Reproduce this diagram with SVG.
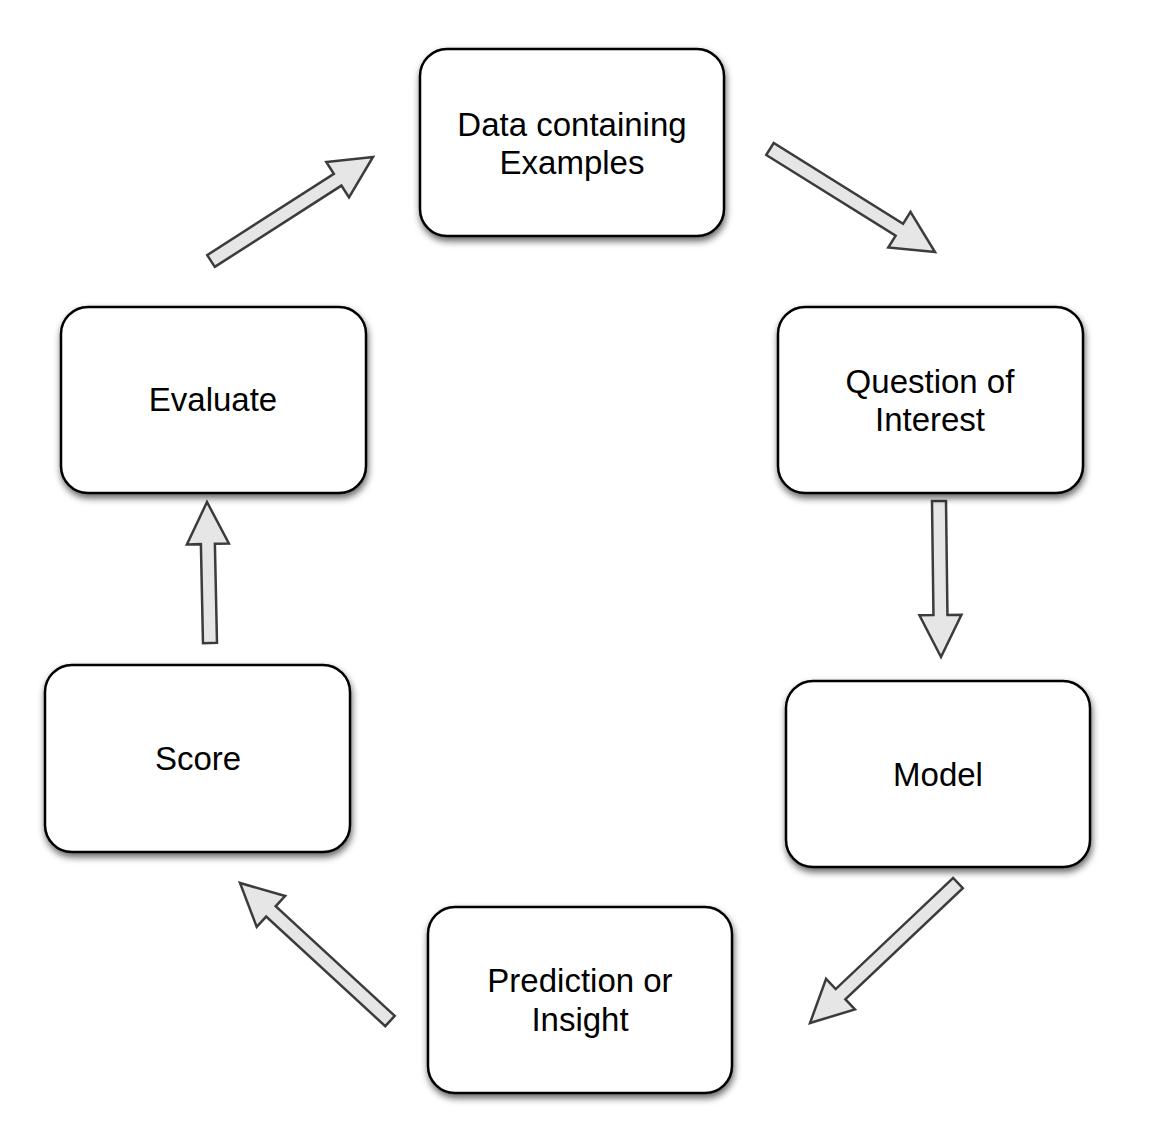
<svg xmlns="http://www.w3.org/2000/svg" width="1171" height="1124" viewBox="0 0 1171 1124">
<defs>
<filter id="sh" x="-10%" y="-10%" width="125%" height="130%">
<feDropShadow dx="1" dy="4" stdDeviation="3.5" flood-color="#000" flood-opacity="0.6"/>
</filter>
<style>
.box{fill:#fff;stroke:#000;stroke-width:2.5;filter:url(#sh)}
.lbl{font-family:"Liberation Sans",Arial,sans-serif;font-size:33px;fill:#000;text-anchor:middle}
.arr{fill:#e6e6e6;stroke:#3c3c3c;stroke-width:2.5;stroke-linejoin:miter}
</style>
</defs>
<rect width="1171" height="1124" fill="#fff"/>
<g id="connectors">
<polygon class="arr" points="214.78,266.89 341.43,185.58 348.99,197.36 373,157 326.30,162.02 333.87,173.80 207.22,255.11"/>
<polygon class="arr" points="766.29,154.94 895.66,235.70 888.25,247.57 935,252 910.49,211.95 903.08,223.82 773.71,143.06"/>
<polygon class="arr" points="932,501.09 933.46,615.09 919.46,615.27 941,657 961.46,614.73 947.46,614.91 946,500.91"/>
<polygon class="arr" points="953.19,877.91 835.70,989.04 826.08,978.87 810,1023 854.94,1009.39 845.32,999.22 962.81,888.09"/>
<polygon class="arr" points="394.74,1015.85 275.65,906.29 285.13,895.98 240,883 256.69,926.90 266.17,916.59 385.26,1026.15"/>
<polygon class="arr" points="217,642.85 214.88,543.84 228.89,543.54 207,502 186.89,544.44 200.89,544.14 203,643.15"/>
</g>
<g id="data">
<rect class="box" x="420" y="49" width="304" height="187" rx="27"/>
<text class="lbl" x="572" y="136">Data containing</text>
<text class="lbl" x="572" y="174">Examples</text>
</g>
<g id="question">
<rect class="box" x="778" y="307" width="305" height="186" rx="27"/>
<text class="lbl" x="930" y="393">Question of</text>
<text class="lbl" x="930" y="431">Interest</text>
</g>
<g id="model">
<rect class="box" x="786" y="681" width="304" height="186" rx="27"/>
<text class="lbl" x="938" y="786">Model</text>
</g>
<g id="prediction">
<rect class="box" x="428" y="907" width="304" height="186" rx="27"/>
<text class="lbl" x="580" y="992">Prediction or</text>
<text class="lbl" x="580" y="1031">Insight</text>
</g>
<g id="score">
<rect class="box" x="45" y="665" width="305" height="187" rx="27"/>
<text class="lbl" x="198" y="770">Score</text>
</g>
<g id="evaluate">
<rect class="box" x="61" y="307" width="305" height="186" rx="27"/>
<text class="lbl" x="213" y="411">Evaluate</text>
</g>
</svg>
